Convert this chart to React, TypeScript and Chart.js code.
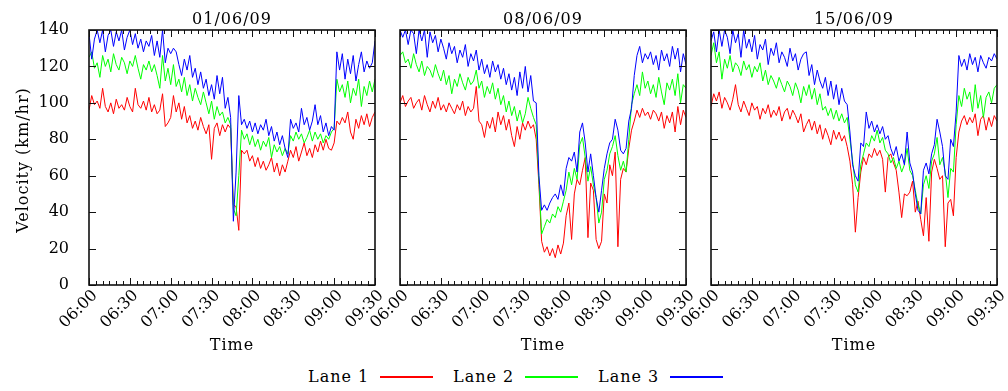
import React, { useEffect, useRef } from "react";
import { Chart, registerables } from "chart.js";

Chart.register(...registerables);

// ---- data ----
const TIME_STEP_MIN = 2; // sample spacing, minutes after 06:00
const TIME_TICKS = ["06:00", "06:30", "07:00", "07:30", "08:00", "08:30", "09:00", "09:30"];
const TIME_MAX_MIN = 210;
const TIME_MAJOR_MIN = 30;
const TIME_MINOR_MIN = 5;
const Y_MIN = 0;
const Y_MAX = 140;
const Y_STEP = 20;
const DATES = ["01/06/09", "08/06/09", "15/06/09"];
const LANES = ["Lane 1", "Lane 2", "Lane 3"];
const LANE_COLORS = ["#ff0000", "#00ff00", "#0000ff"];

const LANE1_0106 = [
  96, 104, 99, 101, 97, 108, 98, 95, 100, 94,
  102, 97, 99, 96, 103, 98, 95, 108, 99, 97,
  101, 96, 103, 95, 99, 94, 96, 105, 87, 89,
  92, 104, 95, 100, 91, 98, 89, 93, 86, 90,
  85, 92, 87, 83, 88, 69, 86, 89, 82, 88,
  84, 88, 86, 44, 43, 30, 74, 72, 74, 68,
  71, 65, 70, 64, 68, 63, 66, 70, 62, 67,
  60, 66, 62, 68, 74, 70, 76, 68, 73, 78,
  71, 75, 70, 77, 73, 79, 74, 80, 75, 74,
  78, 90, 88, 92, 89, 95, 84, 80, 91, 86,
  93, 88, 94, 87, 92, 95,
];
const LANE2_0106 = [
  125, 128, 119, 122, 114, 126, 120, 124, 117, 127,
  121, 118, 125, 122, 116, 123, 120, 126, 119, 113,
  121, 118, 123, 117, 121, 115, 108, 126, 112, 119,
  110, 121, 109, 113, 106, 114, 104, 110, 101, 108,
  103, 99, 106, 100, 94, 101, 91, 98, 93, 95,
  89, 92, 88, 42, 38, 60, 85, 80, 83, 77,
  82, 76, 80, 74, 79, 76, 81, 70, 77, 73,
  76, 71, 75, 72, 82, 79, 84, 80, 83, 78,
  81, 85, 79, 84, 80, 83, 78, 82, 80, 84,
  86, 113, 106, 110, 103, 112, 100, 108, 104, 113,
  98, 109, 104, 112, 106, 113,
];
const LANE3_0106 = [
  138, 124, 135, 140, 133, 140, 128, 137, 140, 131,
  139, 134, 140, 129, 136, 140, 132, 138, 130, 135,
  128, 134, 131, 137, 126, 134, 125, 140, 122, 130,
  127, 130, 128, 121, 115, 124, 118, 126, 114, 119,
  110, 117, 108, 113, 104, 110, 102, 115, 105, 114,
  97, 103, 92, 35, 62, 104, 88, 91, 86, 90,
  84, 89, 83, 88, 85, 91, 82, 87, 79, 84,
  77, 82, 75, 70, 91, 86, 89, 84, 97, 88,
  92, 85, 90, 99, 88, 93, 84, 89, 82, 87,
  85, 128, 118, 127, 113, 124, 116, 126, 112, 121,
  128, 117, 123, 119, 122, 134,
];

const LANE1_0806 = [
  100, 104, 98, 101, 103, 97, 100, 102, 96, 104,
  99, 95, 101, 97, 103, 96, 99, 95, 100, 97,
  94, 99, 96, 101, 93, 98, 95, 97, 109, 90,
  88, 81, 90, 86, 92, 84, 95, 88, 93, 85,
  91, 82, 76, 87, 80, 89, 85, 90, 86, 88,
  80, 55, 24, 18, 21, 16, 20, 15, 22, 17,
  23, 38, 45, 25, 50, 58, 55, 63, 70, 26,
  56, 52, 25, 20, 24, 50, 45, 66, 60, 73,
  21, 58, 64, 62, 75, 85, 90, 96, 92, 97,
  93, 95, 91, 96, 94, 90, 95, 86, 93, 89,
  95, 84, 98, 88, 96, 92,
];
const LANE2_0806 = [
  126, 128, 122, 124, 119, 127, 121, 117, 123, 115,
  120, 118, 114, 121, 116, 112, 118, 110, 115, 105,
  113, 109, 116, 111, 107, 114, 110, 112, 118, 108,
  112, 103, 109, 105, 111, 102, 108, 99, 104, 95,
  101, 93, 98, 90, 96, 89, 94, 103, 97, 92,
  88, 58, 28, 32, 36, 34, 39, 37, 43, 40,
  46, 52, 62, 55, 64, 58, 77, 81, 70, 57,
  65, 55, 48, 34, 40, 58, 63, 72, 76, 82,
  71, 63, 68, 62, 80, 99, 105, 110, 104, 117,
  108, 112, 105, 110, 103, 114, 106, 99, 111, 107,
  113, 104, 116, 100, 110, 108,
];
const LANE3_0806 = [
  140, 136, 140, 132, 140, 138, 127, 140, 134, 140,
  125, 139, 133, 137, 128, 135, 130, 124, 133, 127,
  131, 122, 129, 125, 132, 120, 127, 123, 129, 118,
  124, 116, 121, 114, 123, 117, 121, 113, 119, 110,
  116, 107, 114, 104, 117, 108, 120, 106, 115, 101,
  100, 60, 41, 44, 41, 45, 48, 50, 47, 55,
  49, 64, 70, 68, 73, 62, 84, 89, 78, 62,
  72, 60, 48, 40, 52, 64, 72, 78, 80, 91,
  85, 74, 72, 75, 90, 97, 115, 126, 131, 122,
  127, 124, 128, 121, 126, 118, 129, 123, 127, 120,
  131, 124, 130, 117, 127, 121,
];

const LANE1_1506 = [
  98, 105, 101, 106, 97, 103, 100, 96, 102, 110,
  99, 95, 101, 97, 93, 100, 96, 98, 91, 97,
  94, 99, 92, 96, 93, 98, 90, 95, 97, 91,
  96, 93, 89, 94, 84, 88, 91, 85, 90, 83,
  88, 80, 86, 82, 77, 85, 80, 84, 79, 82,
  76, 68, 55, 29, 48, 62, 70, 66, 72, 70,
  75, 71, 74, 69, 51, 70, 72, 67, 63, 51,
  37, 50, 49, 51, 57, 40, 46, 36, 27, 48,
  24, 62, 69, 64, 58, 60, 21, 45, 47, 38,
  70, 84, 90, 93, 88, 92, 89, 94, 82, 91,
  93, 85, 92, 87, 93, 90,
];
const LANE2_1506 = [
  126, 133, 122, 128, 113, 124, 119, 126, 117, 122,
  120, 115, 123, 118, 121, 114, 120, 117, 122, 112,
  118, 110, 115, 112, 108, 114, 110, 106, 112, 109,
  104, 111, 107, 100, 109, 104, 110, 102, 108, 99,
  105, 96, 98, 93, 97, 91, 96, 90, 94, 89,
  92, 80, 68, 55, 51, 66, 72, 78, 76, 82,
  79, 85, 78, 81, 74, 72, 67, 70, 64, 68,
  62, 66, 75, 63, 60, 52, 44, 39, 55, 60,
  53, 68, 72, 81, 66, 70, 62, 48, 64, 62,
  88, 104, 98, 108, 102, 106, 95, 110, 97, 104,
  92, 103, 106, 100, 108, 110,
];
const LANE3_1506 = [
  134, 139, 128, 140, 131, 140, 136, 127, 140, 133,
  138, 125, 140, 130, 135, 128, 137, 124, 132, 129,
  135, 121, 130, 126, 133, 122, 128, 125, 120, 130,
  123, 127, 118, 124, 127, 128, 115, 121, 110, 118,
  112, 108, 114, 104, 112, 102, 110, 99, 108, 101,
  99, 84, 66, 60, 57, 78, 76, 95, 86, 90,
  84, 88, 83, 87, 80, 82, 75, 71, 76, 68,
  72, 66, 84, 67, 62, 50, 41, 39, 63, 67,
  61, 72, 77, 91, 84, 76, 60, 58, 80, 76,
  95, 126, 120, 124, 118, 127, 121, 125, 117, 126,
  122, 119, 125, 123, 127, 124,
];

const PANELS = [
  { title: DATES[0], lanes: [LANE1_0106, LANE2_0106, LANE3_0106] },
  { title: DATES[1], lanes: [LANE1_0806, LANE2_0806, LANE3_0806] },
  { title: DATES[2], lanes: [LANE1_1506, LANE2_1506, LANE3_1506] },
];

const FONT = '"DejaVu Serif", "Liberation Serif", serif';
const CANVAS_H = 355;

type PanelProps = {
  title: string;
  lanes: number[][];
  left: number;
  width: number;
  yAxisWidth: number;
  padRight: number;
  showY: boolean;
};

function Panel({ title, lanes, left, width, yAxisWidth, padRight, showY }: PanelProps) {
  const ref = useRef<HTMLCanvasElement>(null);

  useEffect(() => {
    if (!ref.current) return;
    const toPts = (arr: number[]) => arr.map((v, i) => ({ x: i * TIME_STEP_MIN, y: v }));

    const deco = {
      id: "deco",
      afterDraw(chart: any) {
        const { ctx, chartArea: a, scales } = chart;
        const xs = scales.x;
        const ys = scales.y;
        ctx.save();
        ctx.strokeStyle = "#111";
        ctx.lineWidth = 1;
        ctx.beginPath();
        // y major ticks (left & right, inward)
        for (let v = Y_MIN; v <= Y_MAX; v += Y_STEP) {
          const py = Math.round(ys.getPixelForValue(v)) + 0.5;
          ctx.moveTo(a.left, py);
          ctx.lineTo(a.left + 7, py);
          ctx.moveTo(a.right, py);
          ctx.lineTo(a.right - 7, py);
        }
        // x ticks (top & bottom, inward)
        for (let m = 0; m <= TIME_MAX_MIN; m += TIME_MINOR_MIN) {
          const px = Math.round(xs.getPixelForValue(m)) + 0.5;
          const len = m % TIME_MAJOR_MIN === 0 ? 7 : 4;
          ctx.moveTo(px, a.bottom);
          ctx.lineTo(px, a.bottom - len);
          ctx.moveTo(px, a.top);
          ctx.lineTo(px, a.top + len);
        }
        ctx.stroke();
        // frame
        ctx.lineWidth = 1.6;
        ctx.strokeRect(a.left, a.top, a.right - a.left, a.bottom - a.top);

        // x tick labels, rotated 45 degrees
        ctx.fillStyle = "#000";
        ctx.font = `16px ${FONT}`;
        xs.ticks.forEach((t: any) => {
          const px = xs.getPixelForValue(t.value);
          ctx.save();
          ctx.translate(px + 6, a.bottom + 8);
          ctx.rotate(-Math.PI / 4);
          ctx.textAlign = "right";
          ctx.textBaseline = "middle";
          ctx.fillText(String(t.label), 0, 0);
          ctx.restore();
        });

        // titles
        (ctx as any).letterSpacing = "1px";
        ctx.textAlign = "center";
        ctx.textBaseline = "alphabetic";
        const cx = (a.left + a.right) / 2;
        ctx.fillText(title, cx, 24);
        ctx.fillText("Time", cx, 350);
        if (showY) {
          ctx.save();
          ctx.translate(28, (a.top + a.bottom) / 2 + 2.5);
          ctx.rotate(-Math.PI / 2);
          ctx.fillText("Velocity (km/hr)", 0, 0);
          ctx.restore();
        }
        ctx.restore();
      },
    };

    const chart = new Chart(ref.current, {
      type: "line",
      data: {
        datasets: lanes.map((arr, i) => ({
          label: LANES[i],
          data: toPts(arr),
          borderColor: LANE_COLORS[i],
          backgroundColor: LANE_COLORS[i],
          borderWidth: 1,
          pointRadius: 0,
          tension: 0,
          fill: false,
          order: 3 - i,
        })),
      },
      options: {
        responsive: false,
        animation: false,
        events: [],
        layout: { padding: { top: 30, right: padRight, left: 0, bottom: 0 } },
        plugins: {
          legend: { display: false },
          tooltip: { enabled: false },
          title: { display: false },
        },
        scales: {
          x: {
            type: "linear",
            min: 0,
            max: TIME_MAX_MIN,
            grid: { display: false },
            border: { display: false },
            ticks: {
              display: false,
              stepSize: TIME_MAJOR_MIN,
              callback: (v: any) => TIME_TICKS[Math.round(Number(v) / TIME_MAJOR_MIN)] ?? "",
            },
            afterFit: (s: any) => {
              s.height = 70;
            },
          },
          y: {
            min: Y_MIN,
            max: Y_MAX,
            grid: { display: false },
            border: { display: false },
            ticks: {
              display: showY,
              stepSize: Y_STEP,
              padding: 12,
              color: "#000",
              font: { family: FONT, size: 16 },
            },
            afterFit: (s: any) => {
              s.width = yAxisWidth;
            },
          },
        },
      },
      plugins: [deco],
    } as any);

    return () => chart.destroy();
  }, []);

  return (
    <canvas
      ref={ref}
      width={width}
      height={CANVAS_H}
      style={{ position: "absolute", left, top: 0, width, height: CANVAS_H }}
    />
  );
}

export default function App() {
  return (
    <div
      style={{
        position: "absolute",
        left: 0,
        top: 0,
        width: 1008,
        height: 391,
        background: "#fff",
        overflow: "hidden",
      }}
    >
      <Panel title={PANELS[0].title} lanes={PANELS[0].lanes} left={0} width={395} yAxisWidth={89} padRight={20} showY={true} />
      <Panel title={PANELS[1].title} lanes={PANELS[1].lanes} left={320} width={386} yAxisWidth={80} padRight={20} showY={false} />
      <Panel title={PANELS[2].title} lanes={PANELS[2].lanes} left={631} width={377} yAxisWidth={80} padRight={11} showY={false} />
      <div style={{ position: "absolute", left: 0, top: 367, width: 1008, height: 22 }}>
        {LANES.map((name, i) => (
          <React.Fragment key={name}>
            <span
              style={{
                position: "absolute",
                left: 308 + i * 145,
                top: 0,
                font: `16px ${FONT}`,
                letterSpacing: "1px",
                lineHeight: "20px",
                whiteSpace: "nowrap",
                color: "#000",
              }}
            >
              {name}
            </span>
            <div
              style={{
                position: "absolute",
                left: 380 + i * 145,
                top: 9,
                width: 53,
                height: 2,
                backgroundColor: LANE_COLORS[i],
              }}
            />
          </React.Fragment>
        ))}
      </div>
    </div>
  );
}
